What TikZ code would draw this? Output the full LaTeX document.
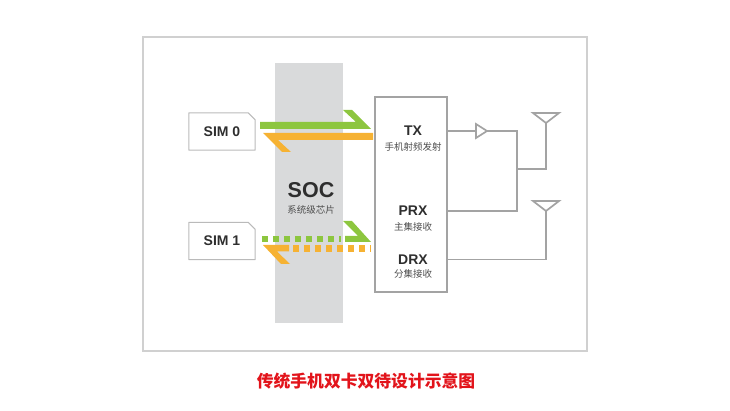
\documentclass[tikz,border=0pt]{standalone}
\usepackage{fontspec}
\setmainfont{Liberation Sans}
\newfontfamily\cjk{Noto Sans CJK SC}
\usetikzlibrary{positioning}
\definecolor{simgreen}{HTML}{8DC63F}
\definecolor{simorange}{HTML}{F6B233}
\definecolor{socgray}{HTML}{D9DADB}
\definecolor{wiregray}{HTML}{A3A3A3}
\definecolor{framegray}{HTML}{D0D0D0}
\definecolor{labelgray}{HTML}{2E2E2E}
\definecolor{capred}{HTML}{E2141B}
\begin{document}
\begin{tikzpicture}[x=1pt,y=-1pt,
    lbl/.style={font=\fontsize{14}{14}\selectfont\bfseries,text=labelgray,inner sep=0pt},
    sub/.style={font=\cjk\fontsize{9.5}{10}\selectfont,text=labelgray!85,inner sep=0pt},
    wire/.style={draw=wiregray,line width=1.7pt},
    simcard/.style={lbl,minimum width=66pt,minimum height=37pt}]
\useasboundingbox (0,0) rectangle (730,411);
\draw[framegray,line width=2pt] (143,37) rectangle (587,351);
\fill[socgray] (275,63) rectangle (343,323);
% sim cards
\node[simcard] (sim0) at (222,131.5) {SIM 0};
\node[simcard] (sim1) at (222,241) {SIM 1};
\foreach \s in {sim0,sim1}
  \draw[wiregray!75,line width=1pt,line join=round] (\s.south west) -- (\s.north west)
    -- ([xshift=-7pt]\s.north east) -- ([yshift=-7pt]\s.north east) -- (\s.south east) -- cycle;
% soc
\node[lbl,font=\fontsize{21.5}{21.5}\selectfont\bfseries] (soc) at (311,190) {SOC};
\node[sub,below=7pt of soc] (socsub) {系统级芯片};
% rf front end
\node[wire,draw,minimum width=72pt,minimum height=195pt] (rf) at (411,194.5) {};
\node[lbl] (tx) at (413,131) {TX};
\node[sub,below=6pt of tx] (txsub) {手机射频发射};
\node[lbl] (prx) at (413,211) {PRX};
\node[sub,below=6pt of prx] (prxsub) {主集接收};
\node[lbl] (drx) at (413,259.5) {DRX};
\node[sub,below=5pt of drx] (drxsub) {分集接收};
% sim 0 paths
\fill[simgreen] (260,122) -- (356,122) -- (343,110) -- (352,110) -- (371,129) -- (260,129) -- cycle;
\fill[simorange] (373,133) -- (263,133) -- (282,152) -- (291,152) -- (278,140) -- (373,140) -- cycle;
% sim 1 paths
\draw[simgreen,line width=6pt,dash pattern=on 6pt off 5pt] ([xshift=7pt]sim1.east |- 0,239) -- (341,239);
\fill[simgreen] (343,221) -- (352,221) -- (371,242) -- (345,242) -- (345,236) -- (358,236) -- cycle;
\draw[simorange,line width=6.5pt,dash pattern=on 6pt off 5pt] (293,248.5) -- ([xshift=-4pt]rf.west |- 0,248.5);
\fill[simorange] (263,245) -- (289,245) -- (289,251.5) -- (277,251.5) -- (290,264) -- (281,264) -- cycle;
% antennas
\coordinate (amp) at (476,131);
\coordinate (hub) at (517,169);
\coordinate (ant1) at (546,123);
\coordinate (ant2) at (546,211);
\draw[wire] (rf.east |- tx) -- (amp);
\draw[wire,line join=miter] (amp) -- ++(0,-7) -- ++(11,7) -- ++(-11,7) -- cycle;
\draw[wire] ([xshift=11pt]amp) -| (hub |- prx) -- (rf.east |- prx);
\draw[wire] (hub) -| (ant1);
\draw[wire] (rf.east |- drx) -| (ant2);
\foreach \a in {ant1,ant2}
  \draw[wire,line join=miter] (\a) -- ++(-13,-10) -- ++(26,0) -- cycle;
% caption
\node[font=\cjk\fontsize{16.8}{17}\selectfont\bfseries,text=capred] (caption) at (366,381) {传统手机双卡双待设计示意图};
\end{tikzpicture}
\end{document}
